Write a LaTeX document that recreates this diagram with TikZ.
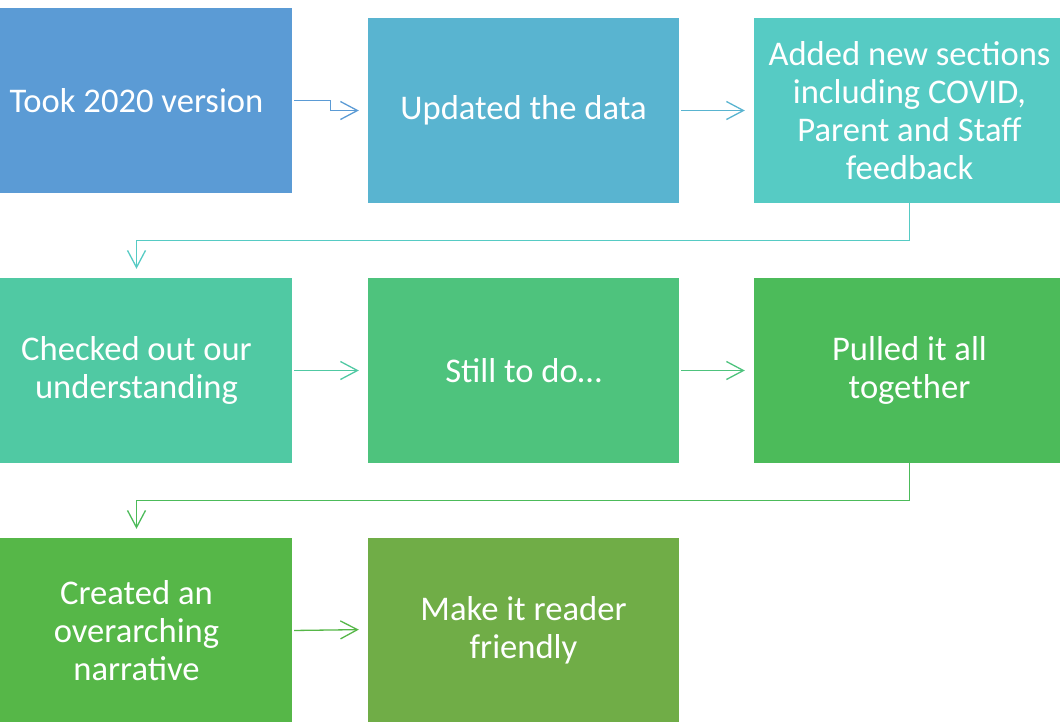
\documentclass[tikz,border=0pt]{standalone}
\usepackage{fontspec}
\setmainfont{Carlito}
\usetikzlibrary{arrows.meta}

% step colours, running from blue to green
\definecolor{c1}{RGB}{91,155,213}
\definecolor{c2}{RGB}{89,180,208}
\definecolor{c3}{RGB}{86,203,196}
\definecolor{c4}{RGB}{80,201,163}
\definecolor{c5}{RGB}{78,195,125}
\definecolor{c6}{RGB}{76,187,90}
\definecolor{c7}{RGB}{86,183,72}
\definecolor{c8}{RGB}{112,173,71}

\tikzset{
  stepbox/.style={rectangle, draw=none, minimum width=311pt, minimum height=185pt,
    text=white, align=center, inner sep=0pt,
    font=\fontsize{34.6}{38}\selectfont},
  flow/.style={line width=1.3pt, -{Straight Barb[length=17pt,width=18pt,line width=1.3pt]},
    shorten >=9pt, shorten <=2pt},
}

\begin{document}
\begin{tikzpicture}[x=1pt,y=-1pt]
\useasboundingbox (0,0) rectangle (1060,721);
\fill[white] (0,0) rectangle (1060,721);
\clip (0,0) rectangle (1060,721);

% first row
\node[stepbox, fill=c1] (b1) at (136.5,100.5) {Took 2020 version};
\node[stepbox, fill=c2] (b2) at (523.5,110.5) {Updated the data};
\node[stepbox, fill=c3] (b3) at (909.5,110.5) {Added new sections\\including COVID,\\Parent and Staff\\feedback};

% second row
\node[stepbox, fill=c4] (b4) at (136.5,370.5) {Checked out our\\understanding};
\node[stepbox, fill=c5] (b5) at (523.5,370.5) {Still to do\ldots};
\node[stepbox, fill=c6] (b6) at (909.5,370.5) {Pulled it all\\together};

% third row
\node[stepbox, fill=c7] (b7) at (136.5,630.5) {Created an\\overarching\\narrative};
\node[stepbox, fill=c8] (b8) at (523.5,630.5) {Make it reader\\friendly};

% connectors
\draw[flow, c1] (b1.east) -- ++(38,0) |- (b2.west);
\draw[flow, c2] (b2.east) -- (b3.west);
\draw[flow, c3, shorten <=0pt] (b3.south) -- ++(0,37) -| (b4.north);
\draw[flow, c4] (b4.east) -- (b5.west);
\draw[flow, c5] (b5.east) -- (b6.west);
\draw[flow, c6, shorten <=0pt] (b6.south) -- ++(0,37) -| (b7.north);
\draw[flow, c7] (b7.east) -- ([yshift=1pt]b8.west);
\end{tikzpicture}
\end{document}
